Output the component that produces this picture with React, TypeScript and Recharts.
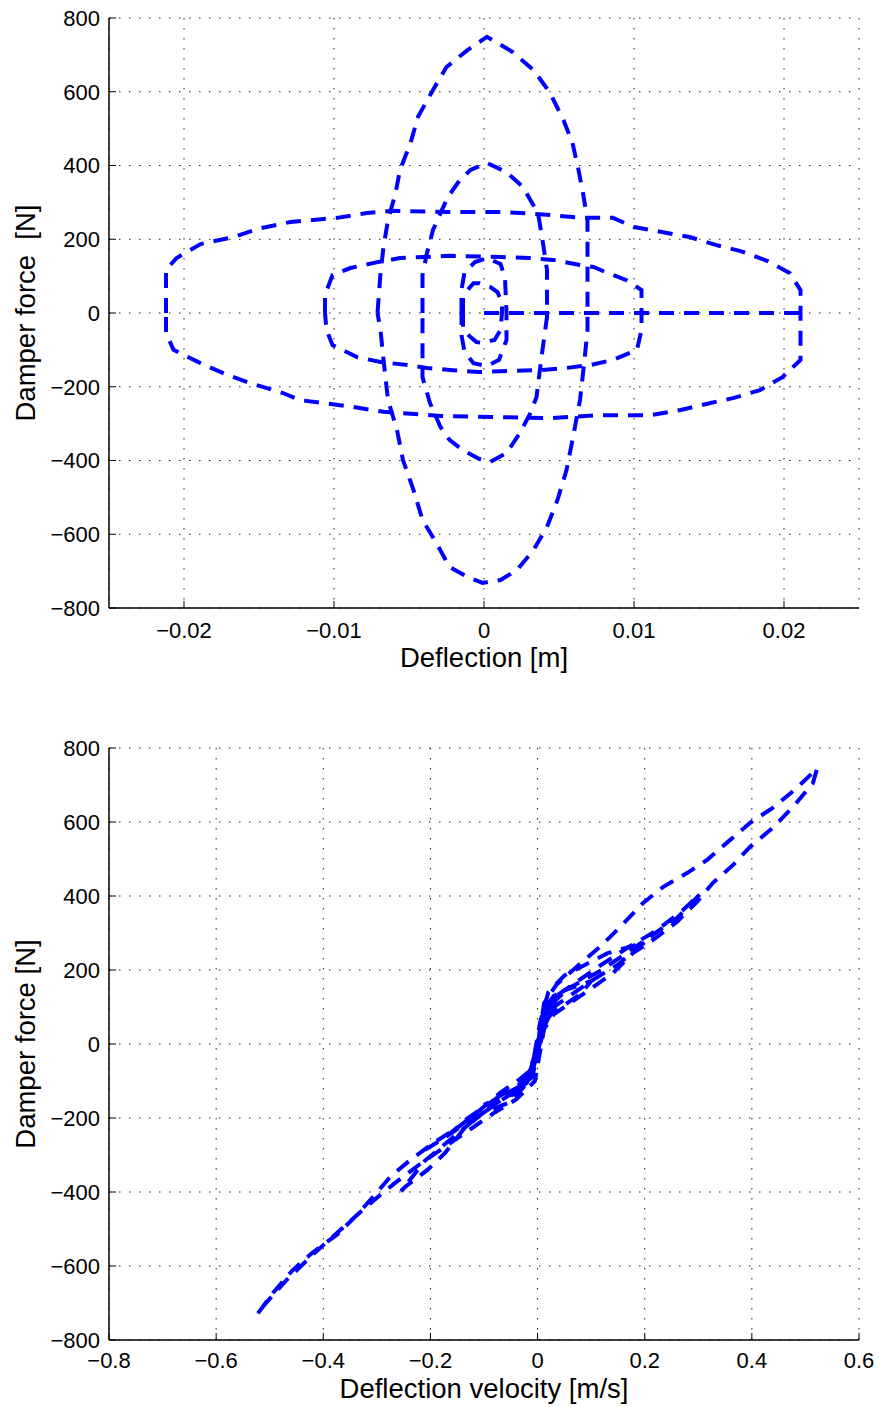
import { LineChart, Line, XAxis, YAxis, CartesianGrid } from 'recharts'

type Pair = [number, number]

// tick labels
const deflectionTicks = [-0.02, -0.01, 0, 0.01, 0.02]
const velocityTicks = [-0.8, -0.6, -0.4, -0.2, 0, 0.2, 0.4, 0.6]
const forceTicks = [-800, -600, -400, -200, 0, 200, 400, 600, 800]

// ---- force vs deflection loops [m, N] ----
const wideLoop: Pair[] = [
  [-0.0212, 0], [-0.0212, 62], [-0.0212, 117], [-0.0205, 149], [-0.0189, 187], [-0.0167, 206],
  [-0.0151, 228], [-0.0129, 247], [-0.0098, 258], [-0.0078, 271], [-0.0061, 277], [-0.0025, 274],
  [0.0011, 274], [0.0037, 268], [0.0066, 258], [0.0086, 258], [0.01, 233], [0.0122, 217],
  [0.0137, 206], [0.0155, 184], [0.0171, 168], [0.0189, 141], [0.0204, 108], [0.0211, 62],
  [0.0211, 0], [0.0211, -54], [0.0211, -127], [0.0199, -174], [0.0184, -209], [0.0166, -231],
  [0.0151, -244], [0.0131, -263], [0.0111, -277], [0.0077, -277], [0.0044, -285], [0.0006, -282],
  [-0.0029, -279], [-0.0067, -268], [-0.0087, -255], [-0.0123, -236], [-0.0134, -217],
  [-0.0156, -190], [-0.0171, -168], [-0.0189, -136], [-0.0207, -100], [-0.0212, -54], [-0.0212, 0],
]
const midLoop: Pair[] = [
  [-0.0106, 0], [-0.0106, 49], [-0.0101, 103], [-0.0089, 122], [-0.0071, 138], [-0.0056, 149],
  [-0.0023, 155], [0.0011, 152], [0.0031, 149], [0.0046, 144], [0.0064, 130], [0.0073, 125],
  [0.0081, 111], [0.0095, 89], [0.0105, 62], [0.0105, 0], [0.0105, -46], [0.0102, -100],
  [0.0086, -127], [0.0071, -141], [0.0055, -149], [0.0037, -155], [0.0019, -157], [-0.0003, -160],
  [-0.0021, -155], [-0.0038, -149], [-0.0051, -141], [-0.0069, -133], [-0.0085, -119],
  [-0.0101, -87], [-0.0105, -46], [-0.0106, 0],
]
const tallLoop: Pair[] = [
  [-0.0071, 0], [-0.0069, 108], [-0.0067, 179], [-0.0064, 252], [-0.0059, 325], [-0.0056, 388],
  [-0.0049, 461], [-0.0044, 532], [-0.0034, 605], [-0.0025, 667], [-0.0011, 713], [0.0002, 749],
  [0.0019, 708], [0.0033, 659], [0.0044, 597], [0.0053, 523], [0.0059, 461], [0.0063, 388],
  [0.0066, 325], [0.0069, 252], [0.0069, 89], [0.0069, 0], [0.0069, -46], [0.0067, -127],
  [0.0064, -236], [0.0059, -344], [0.0055, -426], [0.0049, -507], [0.0042, -580], [0.0033, -643],
  [0.0022, -697], [0.0011, -724], [-0.0001, -732], [-0.0011, -716], [-0.0023, -689],
  [-0.0031, -629], [-0.0041, -561], [-0.0047, -480], [-0.0054, -399], [-0.0058, -317],
  [-0.0064, -236], [-0.0067, -127], [-0.0069, -46], [-0.0071, 0],
]
const narrowLoop: Pair[] = [
  [-0.0041, 0], [-0.0041, 35], [-0.0041, 103], [-0.0038, 163], [-0.0034, 225], [-0.0029, 271],
  [-0.0024, 315], [-0.0016, 361], [-0.0009, 388], [0.0002, 407], [0.0015, 382], [0.0026, 342],
  [0.0031, 306], [0.0036, 271], [0.0039, 198], [0.0042, 117], [0.0042, 35], [0.0042, -11],
  [0.0039, -100], [0.0037, -163], [0.0035, -228], [0.0031, -271], [0.0024, -325], [0.0015, -380],
  [0.0004, -404], [-0.0003, -396], [-0.0014, -372], [-0.0023, -344], [-0.0029, -309],
  [-0.0036, -244], [-0.0041, -174], [-0.0041, -73], [-0.0041, 0],
]
const smallLoop: Pair[] = [
  [-0.0014, 0], [-0.0014, 43], [-0.0011, 62], [-0.0007, 81], [-0.0003, 81], [0.0004, 71],
  [0.0009, 57], [0.0012, 27], [0.0012, 0], [0.0011, -46], [0.0007, -73], [-0.0001, -81],
  [-0.0005, -79], [-0.0009, -65], [-0.0014, -46], [-0.0014, 0],
]
const smallTallLoop: Pair[] = [
  [-0.0015, 0], [-0.0015, 62], [-0.0013, 111], [-0.0006, 138], [0.0002, 149], [0.0011, 133],
  [0.0014, 95], [0.0015, 0], [0.0015, -73], [0.001, -127], [0.0002, -144], [-0.0007, -136],
  [-0.0013, -106], [-0.0015, -60], [-0.0015, 0],
]
const startLine: Pair[] = [[0, 0], [0.0211, 0]]

// ---- force vs deflection velocity loops [m/s, N] ----
const vTallLoop: Pair[] = [
  [-0.522, -728], [-0.494, -673], [-0.457, -611], [-0.421, -565], [-0.375, -516], [-0.341, -468],
  [-0.307, -413], [-0.275, -359], [-0.238, -314], [-0.195, -268], [-0.15, -227], [-0.107, -178],
  [-0.07, -132], [-0.033, -95], [-0.012, -70], [0.002, 10], [0.012, 110], [0.035, 160],
  [0.07, 205], [0.116, 262], [0.154, 316], [0.197, 381], [0.234, 424], [0.279, 462],
  [0.316, 497], [0.359, 551], [0.396, 597], [0.439, 638], [0.484, 692], [0.522, 745],
  [0.514, 705], [0.477, 641], [0.439, 584], [0.396, 532], [0.365, 484], [0.327, 435],
  [0.298, 385], [0.26, 330], [0.215, 281], [0.178, 246], [0.141, 192], [0.1, 150], [0.06, 110],
  [0.03, 80], [0.012, 40], [-0.005, -100], [-0.04, -150], [-0.08, -185], [-0.12, -225],
  [-0.17, -275], [-0.22, -325], [-0.27, -380], [-0.32, -440], [-0.37, -505], [-0.42, -570],
  [-0.47, -640], [-0.51, -705], [-0.522, -728],
]
const vNarrowLoop: Pair[] = [
  [-0.255, -398], [-0.247, -386], [-0.206, -341], [-0.173, -295], [-0.139, -232], [-0.102, -186],
  [-0.051, -157], [-0.014, -97], [0, -20], [0.01, 80], [0.03, 130], [0.07, 160], [0.12, 200],
  [0.17, 250], [0.22, 300], [0.26, 340], [0.303, 405], [0.27, 360], [0.22, 305], [0.17, 262],
  [0.12, 215], [0.08, 175], [0.04, 135], [0.015, 95], [0, 0], [-0.02, -105], [-0.06, -145],
  [-0.11, -195], [-0.16, -255], [-0.21, -315], [-0.255, -398],
]
const vWideLoop: Pair[] = [
  [-0.21, -286], [-0.18, -260], [-0.15, -230], [-0.1, -180], [-0.06, -145], [-0.03, -115],
  [-0.01, -60], [0.005, 60], [0.02, 140], [0.05, 185], [0.09, 215], [0.13, 245], [0.17, 262],
  [0.2, 275], [0.15, 215], [0.1, 170], [0.06, 130], [0.03, 100], [0.01, 40], [-0.01, -90],
  [-0.04, -120], [-0.08, -150], [-0.13, -200], [-0.17, -250], [-0.21, -286],
]
const vMidLoop: Pair[] = [
  [-0.1, -165], [-0.07, -150], [-0.04, -130], [-0.02, -105], [-0.005, -40], [0.008, 70],
  [0.025, 120], [0.05, 145], [0.08, 160], [0.1, 170], [0.08, 135], [0.05, 105], [0.03, 90],
  [0.015, 60], [0, -30], [-0.015, -90], [-0.04, -115], [-0.07, -140], [-0.1, -165],
]
const vSmallLoop: Pair[] = [
  [-0.035, -100], [-0.02, -95], [-0.01, -70], [0, 0], [0.01, 70], [0.02, 110], [0.035, 120],
  [0.025, 100], [0.012, 60], [0.002, 0], [-0.008, -60], [-0.02, -90], [-0.035, -100],
]
const vSmallTallLoop: Pair[] = [
  [-0.05, -140], [-0.03, -120], [-0.01, -60], [0.005, 40], [0.02, 110], [0.05, 140],
  [0.035, 120], [0.015, 80], [0, 0], [-0.015, -80], [-0.035, -120], [-0.05, -140],
]

const toPts = (arr: Pair[]) => arr.map(([x, y]) => ({ x, y }))

const FONT = '"Liberation Sans", Arial, Helvetica, sans-serif'
const BLUE = '#0000ff'
const fmt = (v: number) => (v < 0 ? '\u2212' + String(-v) : String(v))

interface Props {
  series: Pair[][]
  xDomain: [number, number]
  xTicks: number[]
  xLabel: string
  yLabel: string
  height: number
  top: number
  xAxisHeight: number
  xTickMargin: number
  xLabelOffset: number
}

function Panel({ series, xDomain, xTicks, xLabel, yLabel, height, top, xAxisHeight, xTickMargin, xLabelOffset }: Props) {
  const tickStyle = { fill: '#000', fontSize: 22, fontFamily: FONT }
  return (
    <LineChart width={879} height={height} margin={{ top, right: 20, bottom: 0, left: 0 }}>
      <CartesianGrid stroke="#222" strokeDasharray="1.5 8.5" />
      <XAxis
        type="number"
        dataKey="x"
        domain={xDomain}
        ticks={xTicks}
        interval={0}
        allowDataOverflow
        height={xAxisHeight}
        tickSize={-7}
        tickMargin={xTickMargin}
        tickFormatter={fmt}
        tick={tickStyle}
        axisLine={{ stroke: '#000', strokeWidth: 1.5 }}
        tickLine={{ stroke: '#000' }}
        label={{ value: xLabel, position: 'insideBottom', offset: xLabelOffset, fill: '#000', fontSize: 27.5, fontFamily: FONT }}
      />
      <XAxis
        xAxisId="top"
        orientation="top"
        type="number"
        domain={xDomain}
        ticks={xTicks}
        interval={0}
        allowDataOverflow
        height={0}
        tickSize={-7}
        tick={false}
        axisLine={{ stroke: '#000', strokeWidth: 1.5 }}
        tickLine={{ stroke: '#000' }}
      />
      <YAxis
        type="number"
        domain={[-800, 800]}
        ticks={forceTicks}
        interval={0}
        allowDataOverflow
        width={109}
        tickSize={-7}
        tickMargin={16}
        tickFormatter={fmt}
        tick={tickStyle}
        axisLine={{ stroke: '#000', strokeWidth: 1.5 }}
        tickLine={{ stroke: '#000' }}
        label={{ value: yLabel, angle: -90, position: 'insideLeft', offset: 25, fill: '#000', fontSize: 27.5, fontFamily: FONT, style: { textAnchor: 'middle' } }}
      />
      <YAxis
        yAxisId="right"
        orientation="right"
        type="number"
        domain={[-800, 800]}
        ticks={forceTicks}
        interval={0}
        allowDataOverflow
        width={0}
        tickSize={-7}
        tick={false}
        axisLine={{ stroke: '#000', strokeWidth: 1.5 }}
        tickLine={{ stroke: '#000' }}
      />
      {series.map((s, i) => (
        <Line
          key={i}
          data={toPts(s)}
          dataKey="y"
          type="linear"
          stroke={BLUE}
          strokeWidth={4}
          strokeDasharray="15 10"
          dot={false}
          activeDot={false}
          isAnimationActive={false}
        />
      ))}
    </LineChart>
  )
}

export default function App() {
  return (
    <div style={{ position: 'absolute', left: 0, top: 0, width: 879, height: 1407, background: '#fff' }}>
      <Panel
        series={[startLine, wideLoop, midLoop, tallLoop, narrowLoop, smallTallLoop, smallLoop]}
        xDomain={[-0.025, 0.025]}
        xTicks={deflectionTicks}
        xLabel="Deflection [m]"
        yLabel={'Damper force\u00A0 [N]'}
        height={700}
        top={18}
        xAxisHeight={92}
        xTickMargin={21}
        xLabelOffset={33}
      />
      <Panel
        series={[vTallLoop, vNarrowLoop, vWideLoop, vMidLoop, vSmallTallLoop, vSmallLoop]}
        xDomain={[-0.8, 0.6]}
        xTicks={velocityTicks}
        xLabel="Deflection velocity [m/s]"
        yLabel="Damper force [N]"
        height={707}
        top={48}
        xAxisHeight={67}
        xTickMargin={19}
        xLabelOffset={9}
      />
    </div>
  )
}
